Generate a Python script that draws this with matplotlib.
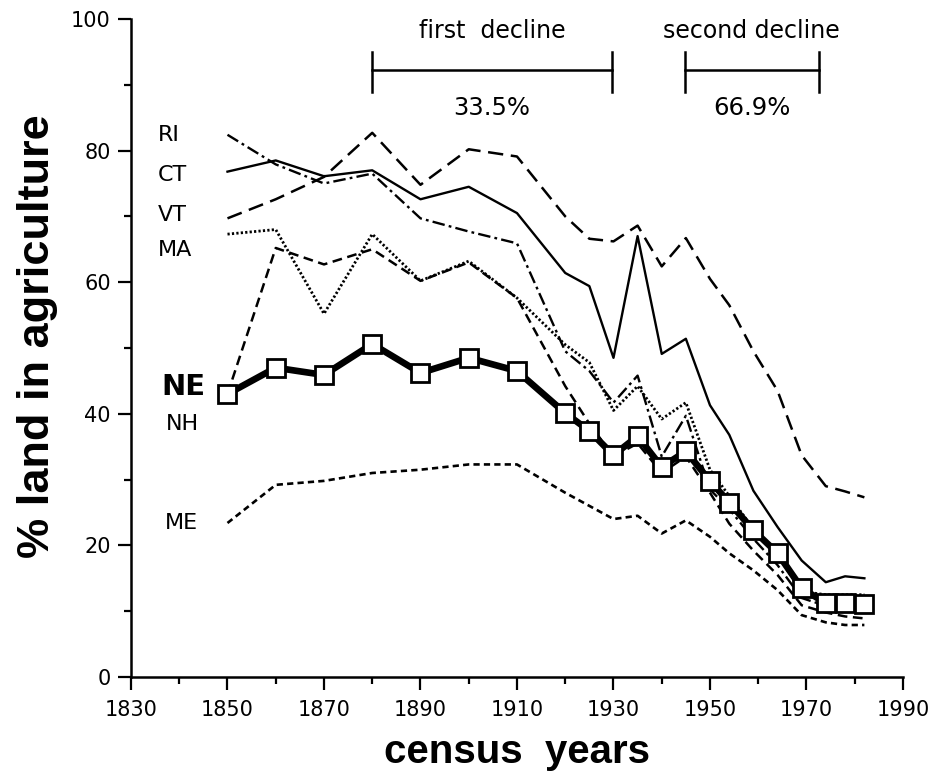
import matplotlib
matplotlib.use("Agg")
import matplotlib.pyplot as plt
from matplotlib.ticker import FixedLocator

plt.rcParams['font.family'] = ['Liberation Sans', 'DejaVu Sans']
plt.rcParams['lines.scale_dashes'] = False

years = [1850, 1860, 1870, 1880, 1890, 1900, 1910, 1920, 1925, 1930, 1935,
         1940, 1945, 1950, 1954, 1959, 1964, 1969, 1974, 1978, 1982]

NE = [43.0, 47.0, 45.9, 50.6, 46.2, 48.5, 46.5, 40.1, 37.4, 33.7, 36.6,
      31.9, 34.3, 29.8, 26.5, 22.3, 18.8, 13.5, 11.2, 11.2, 11.1]
CT = [76.8, 78.5, 76.1, 77.0, 72.6, 74.5, 70.5, 61.4, 59.4, 48.5, 67.0,
      49.1, 51.4, 41.3, 36.8, 28.3, 22.8, 17.7, 14.4, 15.3, 15.0]
VT = [69.7, 72.6, 76.0, 82.7, 74.8, 80.2, 79.1, 70.0, 66.6, 66.2, 68.6,
      62.4, 66.7, 60.5, 56.5, 49.5, 43.5, 33.7, 29.0, 28.2, 27.3]
RI = [82.4, 77.9, 75.0, 76.5, 69.7, 67.7, 65.9, 49.5, 46.5, 41.7, 45.8,
      33.5, 39.7, 28.5, 25.5, 21.0, 17.0, 12.0, 10.8, 10.5, 10.5]
MA = [67.3, 68.0, 55.2, 67.3, 60.2, 63.2, 57.6, 50.5, 47.8, 40.5, 44.2,
      39.2, 41.7, 31.5, 27.5, 22.5, 18.5, 13.0, 12.5, 12.5, 12.5]
NH = [43.0, 65.2, 62.7, 65.0, 60.2, 63.0, 57.6, 44.2, 38.5, 33.5, 35.5,
      31.0, 33.5, 28.0, 23.3, 19.2, 15.5, 10.9, 9.8, 9.2, 8.9]
ME = [23.4, 29.2, 29.8, 31.0, 31.5, 32.3, 32.3, 28.0, 26.0, 24.0, 24.5,
      21.8, 23.8, 21.3, 18.8, 16.2, 13.2, 9.4, 8.3, 7.9, 7.9]

x_major = [1830, 1850, 1870, 1890, 1910, 1930, 1950, 1970, 1990]
x_minor = [1840, 1860, 1880, 1900, 1920, 1940, 1960, 1980]
y_major = [0, 20, 40, 60, 80, 100]
y_minor = [10, 30, 50, 70, 90]

state_labels = ["RI", "CT", "VT", "MA", "NE", "NH", "ME"]
label_y = [82.4, 76.3, 70.2, 64.9, 44.1, 38.5, 23.4]
label_x = [1835.6, 1835.6, 1835.6, 1835.6, 1836.3, 1837.3, 1837.0]

declines = [("first  decline", "33.5%", 1880, 1929.6),
            ("second decline", "66.9%", 1944.8, 1972.5)]

fig = plt.figure(figsize=(9.41, 7.81), dpi=100)
ax = fig.add_axes([0.1392, 0.1332, 0.8204, 0.8425])

k = 'black'
ax.plot(years, ME, color=k, lw=1.9, dashes=(4.5, 3.0), zorder=2)
ax.plot(years, NH, color=k, lw=1.8, dashes=(7.0, 4.0), zorder=2)
ax.plot(years, MA, color=k, lw=2.0, dashes=(1.6, 1.6), zorder=2)
ax.plot(years, RI, color=k, lw=1.7, dashes=(9.0, 3.0, 2.0, 3.0), zorder=2)
ax.plot(years, VT, color=k, lw=1.8, dashes=(11.0, 5.5), zorder=2)
ax.plot(years, CT, color=k, lw=1.7, zorder=2)
ax.plot(years, NE, color=k, lw=4.8, marker='s', markersize=12.5,
        markerfacecolor='white', markeredgecolor=k, markeredgewidth=2.0,
        zorder=5, clip_on=False)

ax.set_xlim(1830, 1990)
ax.set_ylim(0, 100)
ax.xaxis.set_major_locator(FixedLocator(x_major))
ax.xaxis.set_minor_locator(FixedLocator(x_minor))
ax.yaxis.set_major_locator(FixedLocator(y_major))
ax.yaxis.set_minor_locator(FixedLocator(y_minor))
for s in ['top', 'right']:
    ax.spines[s].set_visible(False)
for s in ['left', 'bottom']:
    ax.spines[s].set_linewidth(1.8)
ax.tick_params(which='major', direction='out', length=9.5, width=1.6,
               labelsize=15, pad=5)
ax.tick_params(axis='x', which='major', pad=7)
ax.tick_params(which='minor', direction='out', length=5, width=1.6)
for lab in ax.get_xticklabels() + ax.get_yticklabels():
    lab.set_family(['DejaVu Sans'])

ax.set_xlabel("census  years", fontsize=29, fontweight='bold')
ax.xaxis.set_label_coords(0.5, -0.085)
ax.set_ylabel("% land in agriculture", fontsize=32.5, fontweight='bold')
ax.yaxis.set_label_coords(-0.094, 0.518)

for lab, lx, ly in zip(state_labels, label_x, label_y):
    if lab == "NE":
        ax.text(lx, ly, lab, fontsize=21, fontweight='bold', ha='left',
                va='center', family=['DejaVu Sans'])
    else:
        ax.text(lx, ly, lab, fontsize=16, ha='left', va='center',
                family=['DejaVu Sans'])

for title, pct, x0, x1 in declines:
    yb = 92.2
    ax.plot([x0, x1], [yb, yb], color=k, lw=1.8, clip_on=False)
    ax.plot([x0, x0], [yb - 3.3, yb + 2.8], color=k, lw=1.8, clip_on=False)
    ax.plot([x1, x1], [yb - 3.3, yb + 2.8], color=k, lw=1.8, clip_on=False)
    xm = (x0 + x1) / 2
    ax.text(xm, 98.2, title, fontsize=17, ha='center', va='center',
            family=['DejaVu Sans'])
    ax.text(xm, 86.5, pct, fontsize=17.5, ha='center', va='center',
            family=['DejaVu Sans'])

fig.savefig("out.png", dpi=100)
